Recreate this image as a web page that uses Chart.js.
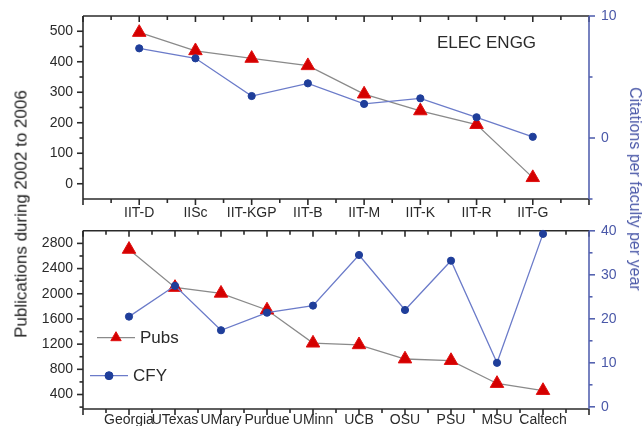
<!DOCTYPE html>
<html><head><meta charset="utf-8">
<script src="https://cdn.jsdelivr.net/npm/chart.js@4.4.0/dist/chart.umd.min.js"></script>
<style>
html,body{margin:0;padding:0;background:#fff;}
#wrap{position:relative;width:644px;height:426px;overflow:hidden;background:#fff;font-family:"Liberation Sans",Arial,sans-serif;}
canvas{position:absolute;left:0;}
.t{position:absolute;white-space:nowrap;line-height:1;}
</style></head><body>
<div id="wrap">
<canvas id="c1" width="644" height="222" style="top:0"></canvas>
<canvas id="c2" width="644" height="204" style="top:222px"></canvas>
<div class="t" id="ltitle" style="left:21px;top:214px;font-size:17px;color:#222;transform:translate(-50%,-50%) rotate(-90deg)"></div>
<div class="t" id="rtitle" style="left:635px;top:189px;font-size:16px;color:#4a58a8;transform:translate(-50%,-50%) rotate(90deg)"></div>
</div>
<script>
// ---- data ----
const topCategories = ['IIT-D','IISc','IIT-KGP','IIT-B','IIT-M','IIT-K','IIT-R','IIT-G'];
const topPubs = [496,436,411,387,294,239,194,20];
const topCFY = [7.35,6.53,3.44,4.48,2.79,3.25,1.70,0.1];
const topPubTicks = [0,100,200,300,400,500];
const topCFYTicks = [0,10];
const bottomCategories = ['Georgia','UTexas','UMary','Purdue','UMinn','UCB','OSU','PSU','MSU','Caltech'];
const bottomPubs = [2705,2100,2008,1742,1216,1190,964,939,575,463];
const bottomCFY = [20.5,27.5,17.4,21.4,23.0,34.5,22.0,33.2,10.0,39.3];
const bottomPubTicks = [400,800,1200,1600,2000,2400,2800];
const bottomCFYTicks = [0,10,20,30,40];
const seriesNames = ['Pubs','CFY'];
const panelTitle = 'ELEC ENGG';
const leftTitle = 'Publications during 2002 to 2006';
const rightTitle = 'Citations per faculty per year';

document.getElementById('ltitle').textContent = leftTitle;
document.getElementById('rtitle').textContent = rightTitle;

const FONT = '"Liberation Sans", Arial, sans-serif';
const DARK = '#2a2a2a';
const BLUE_AX = '#5563b0';
const BLUE_TXT = '#4a58a8';
Chart.defaults.font.family = FONT;
Chart.defaults.font.size = 14;
Chart.defaults.color = DARK;

function fixedTicks(values){ return (axis)=>{ axis.ticks = values.map(v=>({value:v})); }; }
function fitW(w){ return (s)=>{ s.width = w; s.paddingTop = 0; s.paddingBottom = 0; }; }
function fitH(h){ return (s)=>{ s.height = h; s.paddingLeft = 0; s.paddingRight = 0; }; }
function minors(majors, half, lo, hi){
  const out = [];
  const all = [majors[0]-half, ...majors.map(v=>v+half)];
  for (const v of all) if (v > lo && v < hi) out.push(v);
  return out;
}

const framePlugin = {
  id:'frame',
  beforeDatasetsDraw(chart, args, o){
    const {ctx, chartArea:a, scales} = chart;
    const ln = (x1,y1,x2,y2)=>{ ctx.beginPath(); ctx.moveTo(x1,y1); ctx.lineTo(x2,y2); ctx.stroke(); };
    ctx.save();
    ctx.lineWidth = 1.6;
    ctx.strokeStyle = DARK;
    const x = scales.x;
    for (let v = x.min; v <= x.max + 1e-9; v += 0.5){
      const px = x.getPixelForValue(v);
      const major = Math.abs(v - Math.round(v)) < 1e-9;
      const L = major ? 6 : 4;
      ln(px, a.bottom, px, a.bottom + L);
      ln(px, a.top, px, a.top + L);
    }
    const y = scales.y;
    for (const v of o.leftMajor) { const p = y.getPixelForValue(v); ln(a.left-6, p, a.left, p); }
    for (const v of o.leftMinor) { const p = y.getPixelForValue(v); ln(a.left-3.5, p, a.left, p); }
    ln(a.left, a.top, a.left, a.bottom);
    ln(a.left, a.top, a.right, a.top);
    ln(a.left, a.bottom, a.right, a.bottom);
    ctx.strokeStyle = BLUE_AX;
    const y1 = scales.y1;
    for (const v of o.rightMajor) { const p = y1.getPixelForValue(v); ln(a.right, p, a.right+6, p); }
    for (const v of o.rightMinor) { const p = y1.getPixelForValue(v); ln(a.right, p, a.right+3.5, p); }
    ln(a.right, a.top, a.right, a.bottom);
    ctx.restore();
  }
};

const textPlugin = {
  id:'texts',
  afterDatasetsDraw(chart, args, o){
    const ctx = chart.ctx;
    ctx.save();
    if (o.title){
      ctx.font = '17px ' + FONT;
      ctx.fillStyle = DARK;
      ctx.textAlign = 'center';
      ctx.textBaseline = 'middle';
      ctx.fillText(o.title.text, o.title.x, o.title.y);
    }
    if (o.legend){
      for (const it of o.legend){
        const ds = chart.data.datasets[it.ds];
        ctx.strokeStyle = ds.borderColor;
        ctx.lineWidth = ds.borderWidth;
        ctx.beginPath(); ctx.moveTo(it.x1, it.y); ctx.lineTo(it.x2, it.y); ctx.stroke();
        ctx.fillStyle = ds.pointBackgroundColor;
        ctx.strokeStyle = ds.pointBorderColor;
        ctx.lineWidth = 1;
        Chart.helpers.drawPoint(ctx, {pointStyle: ds.pointStyle, radius: it.r, borderWidth: 1, rotation: 0}, it.px, it.y);
        ctx.font = '17px ' + FONT;
        ctx.fillStyle = DARK;
        ctx.textAlign = 'left';
        ctx.textBaseline = 'middle';
        ctx.fillText(ds.label, it.tx, it.y + 1);
      }
    }
    ctx.restore();
  }
};

function makeDatasets(pubs, cfy){
  return [
    {
      label: seriesNames[1], yAxisID: 'y1',
      data: cfy.map((v,i)=>({x:i+1, y:v})),
      borderColor: '#6b7bc9', borderWidth: 1.3,
      pointStyle: 'circle', pointRadius: 3.6,
      pointBackgroundColor: '#1f3e9a', pointBorderColor: '#1f3e9a', pointBorderWidth: 1,
      clip: false, tension: 0
    },
    {
      label: seriesNames[0], yAxisID: 'y',
      data: pubs.map((v,i)=>({x:i+1, y:v})),
      borderColor: '#8a8a8a', borderWidth: 1.3,
      pointStyle: 'triangle', pointRadius: 7.8,
      pointBackgroundColor: '#d40000', pointBorderColor: '#e01010', pointBorderWidth: 1,
      clip: false, tension: 0
    }
  ];
}

function makeScales(cats, xmax, xH, xPad, yMin, yMax, yTicks, y1Min, y1Max, y1Ticks){
  return {
    x: {
      type: 'linear', min: 0, max: xmax,
      afterBuildTicks: fixedTicks(cats.map((c,i)=>i+1)),
      afterFit: fitH(xH),
      grid: {display:false, drawTicks:false}, border: {display:false},
      ticks: {autoSkip:false, maxRotation:0, padding:xPad, color:DARK, callback:(v)=>cats[Math.round(v)-1] || ''}
    },
    y: {
      type: 'linear', position: 'left', min: yMin, max: yMax,
      afterBuildTicks: fixedTicks(yTicks),
      afterFit: fitW(83),
      grid: {display:false, drawTicks:false}, border: {display:false},
      ticks: {padding:10, color:DARK, callback:(v)=>String(v)}
    },
    y1: {
      type: 'linear', position: 'right', min: y1Min, max: y1Max,
      afterBuildTicks: fixedTicks(y1Ticks),
      afterFit: fitW(55),
      grid: {display:false, drawTicks:false}, border: {display:false},
      ticks: {padding:12, color:BLUE_TXT, callback:(v)=>String(v)}
    }
  };
}

new Chart(document.getElementById('c1'), {
  type: 'line',
  data: { datasets: makeDatasets(topPubs, topCFY) },
  options: {
    responsive: false, animation: false, events: [],
    layout: {padding: {top:16, left:0, right:0, bottom:0}},
    plugins: {
      legend: {display:false}, tooltip: {enabled:false},
      frame: {leftMajor: topPubTicks, leftMinor: minors(topPubTicks, 50, -50, 550), rightMajor: topCFYTicks, rightMinor: [5, -5]},
      texts: {title: {text: panelTitle, x: 486.5, y: 43}}
    },
    scales: makeScales(topCategories, 9, 23, 6, -50, 550, topPubTicks, -5, 10, topCFYTicks)
  },
  plugins: [framePlugin, textPlugin]
});

new Chart(document.getElementById('c2'), {
  type: 'line',
  data: { datasets: makeDatasets(bottomPubs, bottomCFY) },
  options: {
    responsive: false, animation: false, events: [],
    layout: {padding: {top:3, left:0, right:0, bottom:0}},
    plugins: {
      legend: {display:false}, tooltip: {enabled:false},
      frame: {leftMajor: bottomPubTicks, leftMinor: minors(bottomPubTicks, 200, 170, 3000), rightMajor: bottomCFYTicks, rightMinor: [5,15,25,35]},
      texts: {legend: [
        {ds:1, x1:97, x2:135, px:116, y:115.7, r:6, tx:140},
        {ds:0, x1:90, x2:128, px:109, y:153.7, r:4, tx:133}
      ]}
    },
    scales: makeScales(bottomCategories, 11, 17, 2.5, 170, 3000, bottomPubTicks, -0.5, 40, bottomCFYTicks)
  },
  plugins: [framePlugin, textPlugin]
});
</script>
</body></html>
